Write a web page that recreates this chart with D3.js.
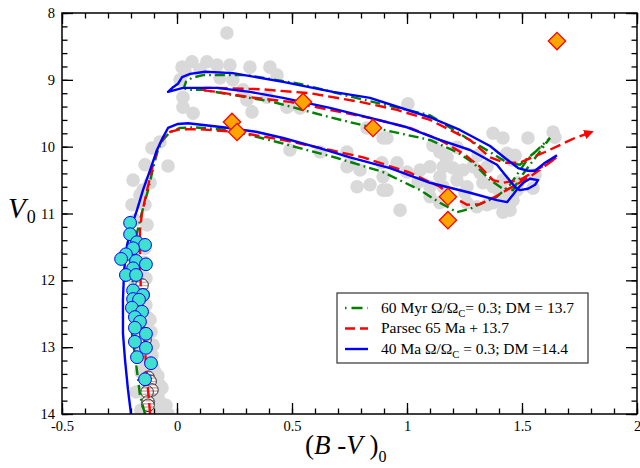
<!DOCTYPE html>
<html>
<head>
<meta charset="utf-8">
<script src="https://cdn.jsdelivr.net/npm/d3@7"></script>
<style>
  body { margin: 0; background: #fff; }
  svg { display: block; font-family: "Liberation Serif", "Times New Roman", serif; }
  text { white-space: pre; }
</style>
</head>
<body>
<svg id="chart" width="640" height="468"></svg>
<script>
// axis ticks
const xTicks = [-0.5, 0, 0.5, 1, 1.5, 2];
const xTickLabels = ["-0.5", "0", "0.5", "1", "1.5", "2"];
const yTicks = [8, 9, 10, 11, 12, 13, 14];
const yTickLabels = ["8", "9", "10", "11", "12", "13", "14"];

// field stars, grey  [B-V, V]
const fieldStars = [
  [0.217,8.30],[0.022,8.81],[0.065,8.73],[0.130,8.73],[0.174,8.78],[0.230,8.78],[0.317,8.81],[0.404,8.81],
  [0.435,8.93],[0.013,9.00],[0.026,9.26],[0.070,9.50],[0.026,9.41],[0.304,9.30],[0.326,9.48],[0.391,9.26],
  [0.478,9.41],[0.535,9.42],[0.243,9.00],[0.287,9.15],[0.491,9.38],[0.100,8.85],[0.035,8.88],[0.187,8.97],
  [-0.109,10.02],[-0.074,9.93],[-0.039,10.29],[-0.139,10.27],[-0.117,10.54],[-0.191,10.50],[-0.148,10.65],
  [0.491,10.05],[0.622,10.08],[0.739,10.08],[0.752,10.27],[0.796,10.35],[0.783,10.60],[0.839,10.57],
  [0.896,10.65],[0.896,9.87],[0.896,10.45],[0.739,10.30],[0.826,9.72],[0.913,9.87],[1.004,9.36],
  [1.113,9.98],[1.165,10.13],[1.217,10.01],[1.374,9.80],[1.417,9.87],[1.526,9.87],[1.635,9.78],[1.643,9.86],
  [1.470,10.13],[1.457,10.20],[0.913,10.65],[0.891,10.24],[0.957,10.24],[1.000,10.38],[1.057,10.35],
  [1.100,10.30],[1.048,10.53],[1.100,10.60],[1.143,10.45],[1.200,10.32],[1.243,10.35],[1.287,10.30],
  [1.157,10.60],[1.217,10.50],[1.261,10.60],[1.317,10.39],[1.330,10.54],[1.374,10.60],[1.417,10.50],
  [1.435,10.69],[1.404,10.80],[1.374,10.84],[1.348,10.87],[1.435,10.90],[1.448,10.95],[1.417,10.98],
  [1.304,10.90],[1.261,10.84],[1.143,10.84],[0.970,10.95],[1.100,10.75],[1.548,10.62],[1.478,10.65],
  [1.461,10.80],[1.174,10.16],[1.309,10.13],[1.435,10.10],[1.557,10.42],[1.483,10.54],[1.404,10.69],
  [1.143,10.08],[1.157,10.30],[1.348,10.30],[1.252,10.69],
  [-0.161,10.72],[-0.196,10.87],[-0.139,10.87],[-0.183,11.10],[-0.130,11.17],[-0.196,11.32],[-0.178,11.47],
  [-0.139,11.52],[-0.187,11.67],[-0.143,11.73],[-0.170,11.88],[-0.135,11.97],[-0.183,12.07],[-0.148,12.18],
  [-0.174,12.29],[-0.135,12.37],[-0.174,12.47],[-0.126,12.56],[-0.161,12.67],[-0.113,12.77],[-0.170,12.86],
  [-0.130,12.97],[-0.109,13.12],[-0.161,13.07],[-0.139,13.22],[-0.104,13.31],[-0.157,13.37],[-0.083,13.43],
  [-0.130,13.52],[-0.065,13.61],[-0.148,13.67],[-0.100,13.72],[-0.074,13.82],[-0.130,13.85],[-0.096,13.94],
  [-0.061,13.94],[-0.157,13.94],
  [-0.083,13.72],[-0.048,13.87],[-0.039,14.00],[-0.074,13.57],[-0.096,13.37],[-0.117,13.19],[-0.104,12.97],
  [-0.117,12.59],[-0.178,13.67]
];

// hatched stars on the lower main sequence
const hatchedStars = [
  [-0.152,12.07],[-0.148,12.22],[-0.139,12.89],[-0.126,13.45],[-0.117,13.51],
  [-0.109,13.64],[-0.130,13.67],[-0.126,13.82],[-0.126,13.87]
];

// cluster members, cyan
const members = [
  [-0.204,11.14],[-0.204,11.31],[-0.174,11.43],[-0.139,11.47],[-0.191,11.52],[-0.222,11.61],[-0.243,11.68],
  [-0.178,11.71],[-0.135,11.76],[-0.191,11.82],[-0.222,11.92],[-0.178,11.92],[-0.191,12.15],[-0.148,12.22],
  [-0.191,12.28],[-0.165,12.29],[-0.196,12.41],[-0.152,12.47],[-0.183,12.55],[-0.161,12.62],[-0.183,12.71],
  [-0.135,12.80],[-0.183,12.92],[-0.135,13.01],[-0.174,13.15],[-0.113,13.24],[-0.139,13.48]
];

// evolved stars, orange diamonds
const giants = [
  [1.652,8.42],[0.548,9.33],[0.239,9.63],[0.261,9.78],[0.852,9.72],[1.178,10.75],[1.178,11.10]
];

// 60 Myr rotating isochrone
const greenIso = [
  [-0.139,14.00],[-0.161,13.72],[-0.170,13.46],[-0.183,13.12],[-0.196,12.79],[-0.196,12.29],[-0.191,11.85],
  [-0.183,11.47],[-0.174,11.29],[-0.152,10.98],[-0.126,10.65],[-0.100,10.27],[-0.083,10.05],[-0.061,9.90],
  [-0.030,9.78],[0.013,9.72],[0.070,9.71],[0.230,9.75],[0.435,9.93],[0.696,10.17],[0.896,10.38],[1.057,10.65],
  [1.143,10.84],[1.217,10.98],[1.274,10.93],[1.317,10.86],[1.391,10.75],[1.448,10.57],[1.522,10.20],
  [1.578,10.01],[1.622,9.87],[1.491,10.47],[1.461,10.65],[1.413,10.62],[1.361,10.50],[1.287,10.24],
  [1.217,10.08],[1.100,9.90],[0.809,9.68],[0.665,9.56],[0.417,9.33],[0.113,9.15],[0.048,9.15],[0.030,9.12],
  [0.039,9.03],[0.065,8.97],[0.113,8.93],[0.304,8.93],[0.535,9.06],[0.765,9.26],[1.100,9.53],[1.287,9.93],
  [1.361,10.08],[1.435,10.24],[1.491,10.27],[1.557,10.08],[1.609,9.93]
];

// Parsec 65 Ma isochrone
const redIso = [
  [-0.117,14.00],[-0.122,13.79],[-0.130,13.49],[-0.139,13.04],[-0.148,12.59],[-0.157,12.15],[-0.161,11.70],
  [-0.161,11.25],[-0.152,10.99],[-0.130,10.65],[-0.104,10.27],[-0.083,10.02],[-0.061,9.87],[-0.030,9.78],
  [0.013,9.74],[0.100,9.74],[0.261,9.78],[0.461,9.90],[0.665,10.05],[0.809,10.16],[1.013,10.39],[1.143,10.60],
  [1.209,10.77],[1.261,10.87],[1.317,10.86],[1.383,10.75],[1.448,10.62],[1.535,10.45],[1.652,10.16],
  [1.491,10.50],[1.417,10.54],[1.374,10.50],[1.317,10.30],[1.243,10.10],[1.143,9.90],[1.013,9.72],
  [0.839,9.57],[0.665,9.45],[0.491,9.33],[0.317,9.26],[0.174,9.18],[0.100,9.15],[0.122,9.12],[0.165,9.12],
  [0.361,9.14],[0.578,9.20],[0.796,9.33],[0.957,9.45],[1.100,9.60],[1.274,9.90],[1.361,10.16],[1.426,10.24],
  [1.491,10.24],[1.600,10.08],[1.730,9.87],[1.804,9.78]
];

// 40 Ma rotating isochrone
const blueIso = [
  [-0.200,14.00],[-0.213,13.64],[-0.226,13.19],[-0.235,12.79],[-0.235,12.29],[-0.230,11.85],[-0.217,11.47],
  [-0.196,11.17],[-0.174,10.95],[-0.148,10.65],[-0.117,10.35],[-0.087,10.05],[-0.061,9.86],[-0.039,9.72],
  [0.004,9.66],[0.048,9.65],[0.200,9.71],[0.348,9.78],[0.461,9.87],[0.609,10.01],[0.752,10.16],[0.926,10.32],
  [1.100,10.54],[1.274,10.69],[1.391,10.80],[1.435,10.83],[1.461,10.72],[1.483,10.62],[1.509,10.53],
  [1.535,10.48],[1.570,10.50],[1.557,10.57],[1.526,10.63],[1.491,10.65],[1.474,10.62],[1.426,10.42],
  [1.391,10.27],[1.274,10.05],[1.143,9.90],[1.000,9.71],[0.839,9.57],[0.665,9.42],[0.461,9.27],[0.317,9.18],
  [0.174,9.12],[0.026,9.12],[-0.039,9.18],[-0.017,9.11],[0.004,9.06],[0.022,8.96],[0.057,8.91],[0.122,8.88],
  [0.243,8.90],[0.461,9.03],[0.678,9.18],[0.839,9.27],[1.100,9.56],[1.230,9.75],[1.361,9.99],[1.426,10.17],
  [1.483,10.32],[1.526,10.36],[1.557,10.36],[1.600,10.24],[1.652,10.13]
];

const legendNames = [
  ["60 Myr Ω/Ω", "C", "= 0.3; DM = 13.7"],
  ["Parsec 65 Ma + 13.7", "", ""],
  ["40 Ma Ω/Ω", "C", " = 0.3; DM =14.4"]
];
const legendColors = ["#008000", "#ff0000", "#0000ff"];
const legendDash = ["1.5,5,11,5", "10,5", null];

const svg = d3.select("#chart");
const plotLeft = 62, plotRight = 637, plotTop = 13, plotBottom = 414;

const x = d3.scaleLinear().domain([-0.5, 2]).range([plotLeft, plotRight]);
const y = d3.scaleLinear().domain([8, 14]).range([plotTop, plotBottom]);

const defs = svg.append("defs");
defs.append("clipPath").attr("id", "plot")
  .append("rect").attr("x", plotLeft).attr("y", plotTop)
  .attr("width", plotRight - plotLeft).attr("height", plotBottom - plotTop);
const hatch = defs.append("pattern").attr("id", "hatch")
  .attr("patternUnits", "userSpaceOnUse").attr("width", 4).attr("height", 3.2);
hatch.append("rect").attr("width", 4).attr("height", 3.2).attr("fill", "#fff");
hatch.append("rect").attr("y", 0).attr("width", 4).attr("height", 1.3).attr("fill", "#c8a0a0");
defs.append("marker").attr("id", "arrow")
  .attr("viewBox", "0 0 10 10").attr("refX", 8).attr("refY", 5)
  .attr("markerWidth", 4).attr("markerHeight", 4).attr("orient", "auto")
  .append("path").attr("d", "M0,0L10,5L0,10z").attr("fill", "#ff0000");

const plot = svg.append("g").attr("clip-path", "url(#plot)");

plot.selectAll("circle.field")
  .data(fieldStars)
  .enter().append("circle")
  .attr("class", "field")
  .attr("cx", d => x(d[0]))
  .attr("cy", d => y(d[1]))
  .attr("r", 6.8)
  .attr("fill", "#d9d9d9");

plot.selectAll("circle.hatched")
  .data(hatchedStars)
  .enter().append("circle")
  .attr("class", "hatched")
  .attr("cx", d => x(d[0]))
  .attr("cy", d => y(d[1]))
  .attr("r", 6.3)
  .attr("fill", "url(#hatch)")
  .attr("stroke", "#222")
  .attr("stroke-width", 0.9);

const line = d3.line().x(d => x(d[0])).y(d => y(d[1]));

plot.append("path").datum(greenIso)
  .attr("d", line).attr("fill", "none")
  .attr("stroke", "#008000").attr("stroke-width", 2.4)
  .attr("stroke-dasharray", "10,4,1.8,4");

plot.append("path").datum(redIso)
  .attr("d", line).attr("fill", "none")
  .attr("stroke", "#ff0000").attr("stroke-width", 2.4)
  .attr("stroke-dasharray", "11,5")
  .attr("marker-end", "url(#arrow)");

plot.append("path").datum(blueIso)
  .attr("d", line).attr("fill", "none")
  .attr("stroke", "#0000ff").attr("stroke-width", 2.4)
  .attr("stroke-linejoin", "round");

plot.selectAll("circle.member")
  .data(members)
  .enter().append("circle")
  .attr("class", "member")
  .attr("cx", d => x(d[0]))
  .attr("cy", d => y(d[1]))
  .attr("r", 6.4)
  .attr("fill", "#40e0d0")
  .attr("stroke", "#0000ff")
  .attr("stroke-width", 1);

plot.selectAll("path.giant")
  .data(giants)
  .enter().append("path")
  .attr("class", "giant")
  .attr("d", d3.symbol(d3.symbolSquare, 150))
  .attr("transform", d => `translate(${x(d[0])},${y(d[1])}) rotate(45)`)
  .attr("fill", "#ffa500")
  .attr("stroke", "#ff0000")
  .attr("stroke-width", 1.3);

// axes, ticks pointing inward on all four sides
function styleAxis(g) {
  g.select(".domain").remove();
  g.selectAll(".tick line").attr("stroke", "#000").attr("stroke-width", 1.3);
  g.selectAll("text").attr("fill", "#000");
  g.attr("font-family", '"Liberation Serif", "Times New Roman", serif').attr("font-size", 14.5);
}

svg.append("g").attr("transform", `translate(0,${plotBottom})`)
  .call(d3.axisBottom(x).ticks(25).tickFormat("").tickSizeInner(-5.5).tickSizeOuter(0)).call(styleAxis);
svg.append("g").attr("transform", `translate(0,${plotBottom})`)
  .call(d3.axisBottom(x).tickValues(xTicks).tickFormat((d, i) => xTickLabels[i]).tickSizeInner(-11).tickSizeOuter(0).tickPadding(7))
  .call(styleAxis);
svg.append("g").attr("transform", `translate(0,${plotTop})`)
  .call(d3.axisTop(x).ticks(25).tickFormat("").tickSizeInner(-5.5).tickSizeOuter(0)).call(styleAxis);
svg.append("g").attr("transform", `translate(0,${plotTop})`)
  .call(d3.axisTop(x).tickValues(xTicks).tickFormat("").tickSizeInner(-11).tickSizeOuter(0)).call(styleAxis);

svg.append("g").attr("transform", `translate(${plotLeft},0)`)
  .call(d3.axisLeft(y).ticks(24).tickFormat("").tickSizeInner(-5.5).tickSizeOuter(0)).call(styleAxis);
svg.append("g").attr("transform", `translate(${plotLeft},0)`)
  .call(d3.axisLeft(y).tickValues(yTicks).tickFormat((d, i) => yTickLabels[i]).tickSizeInner(-11).tickSizeOuter(0).tickPadding(7))
  .call(styleAxis);
svg.append("g").attr("transform", `translate(${plotRight},0)`)
  .call(d3.axisRight(y).ticks(24).tickFormat("").tickSizeInner(-5.5).tickSizeOuter(0)).call(styleAxis);
svg.append("g").attr("transform", `translate(${plotRight},0)`)
  .call(d3.axisRight(y).tickValues(yTicks).tickFormat("").tickSizeInner(-11).tickSizeOuter(0)).call(styleAxis);

svg.append("rect")
  .attr("x", plotLeft).attr("y", plotTop)
  .attr("width", plotRight - plotLeft).attr("height", plotBottom - plotTop)
  .attr("fill", "none").attr("stroke", "#000").attr("stroke-width", 1.5);

// legend
const legend = svg.append("g").attr("transform", "translate(337,293)");
legend.append("rect")
  .attr("width", 251).attr("height", 70)
  .attr("fill", "#fff").attr("stroke", "#333").attr("stroke-width", 1.2);

legendNames.forEach((parts, i) => {
  const ly = 15 + i * 20.5;
  legend.append("line")
    .attr("x1", 8).attr("x2", 31).attr("y1", ly).attr("y2", ly)
    .attr("stroke", legendColors[i]).attr("stroke-width", 2.4)
    .attr("stroke-dasharray", legendDash[i]);
  const t = legend.append("text")
    .attr("x", 44).attr("y", ly + 4.5)
    .attr("font-size", 15.5).attr("fill", "#000");
  t.append("tspan").text(parts[0]);
  if (parts[1]) {
    t.append("tspan").attr("font-size", 10.5).attr("dy", 4).text(parts[1]);
    t.append("tspan").attr("dy", -4).text(parts[2]);
  }
});

// axis titles
const xt = svg.append("text").attr("x", 305).attr("y", 454).attr("font-size", 27).attr("fill", "#000");
xt.append("tspan").text("(");
xt.append("tspan").attr("font-style", "italic").text("B");
xt.append("tspan").text(" -");
xt.append("tspan").attr("font-style", "italic").text("V");
xt.append("tspan").text(" )");
xt.append("tspan").attr("font-size", 16).attr("dy", 8).text("0");

const yt = svg.append("text").attr("x", 8).attr("y", 218).attr("font-size", 29).attr("fill", "#000");
yt.append("tspan").attr("font-style", "italic").text("V");
yt.append("tspan").attr("font-size", 18).attr("dy", 5).attr("dx", 1).text("0");
</script>
</body>
</html>
